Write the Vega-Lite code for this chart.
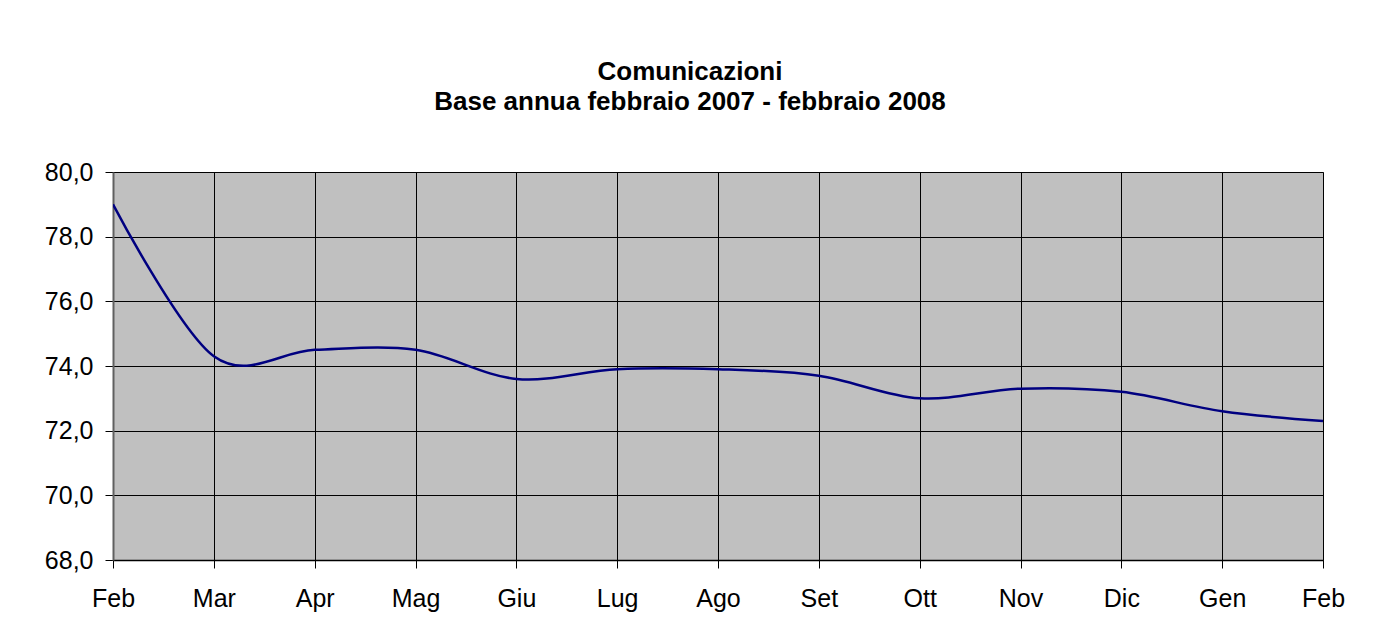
{
  "$schema": "https://vega.github.io/schema/vega-lite/v6.json",
  "autosize": {"type": "none"},
  "width": 1210,
  "height": 388,
  "padding": {"left": 113, "top": 172, "right": 54, "bottom": 82},
  "background": "white",
  "title": {
    "text": ["Comunicazioni", "Base annua febbraio 2007 - febbraio 2008"],
    "font": "Liberation Sans",
    "fontSize": 26,
    "fontWeight": "bold",
    "color": "black",
    "lineHeight": 30,
    "anchor": "middle",
    "dx": -28,
    "offset": 45
  },
  "data": {
    "values": [
      {"mese": "Feb 2007", "valore": 79.0},
      {"mese": "Mar 2007", "valore": 74.3},
      {"mese": "Apr 2007", "valore": 74.5},
      {"mese": "Mag 2007", "valore": 74.5},
      {"mese": "Giu 2007", "valore": 73.6},
      {"mese": "Lug 2007", "valore": 73.9},
      {"mese": "Ago 2007", "valore": 73.9},
      {"mese": "Set 2007", "valore": 73.7},
      {"mese": "Ott 2007", "valore": 73.0},
      {"mese": "Nov 2007", "valore": 73.3},
      {"mese": "Dic 2007", "valore": 73.2},
      {"mese": "Gen 2008", "valore": 72.6},
      {"mese": "Feb 2008", "valore": 72.3}
    ]
  },
  "mark": {"type": "line", "interpolate": "cardinal", "tension": 0, "color": "#000080", "strokeWidth": 2.5, "clip": true},
  "encoding": {
    "x": {
      "field": "mese",
      "type": "ordinal",
      "sort": null,
      "scale": {"type": "point", "padding": 0},
      "axis": {
        "title": null,
        "labelAngle": 0,
        "labelExpr": "substring(datum.label, 0, 3)",
        "labelFont": "Liberation Sans",
        "labelFontSize": 25,
        "labelColor": "black",
        "labelPadding": 18,
        "tickSize": 8,
        "tickColor": "black",
        "domainColor": "black",
        "domainWidth": 1.5,
        "grid": true,
        "gridColor": "black",
        "gridWidth": 1,
        "gridOpacity": 1
      }
    },
    "y": {
      "field": "valore",
      "type": "quantitative",
      "scale": {"domain": [68, 80], "nice": false, "zero": false},
      "axis": {
        "title": null,
        "values": [68, 70, 72, 74, 76, 78, 80],
        "labelExpr": "replace(format(datum.value, '.1f'), '.', ',')",
        "labelFont": "Liberation Sans",
        "labelFontSize": 25,
        "labelColor": "black",
        "labelPadding": 12,
        "tickSize": 8,
        "tickColor": "black",
        "domainColor": "#606060",
        "domainWidth": 2,
        "grid": true,
        "gridColor": "black",
        "gridWidth": 1,
        "gridOpacity": 1
      }
    }
  },
  "config": {
    "view": {"fill": "#C0C0C0", "stroke": "#808080", "strokeWidth": 1}
  }
}
